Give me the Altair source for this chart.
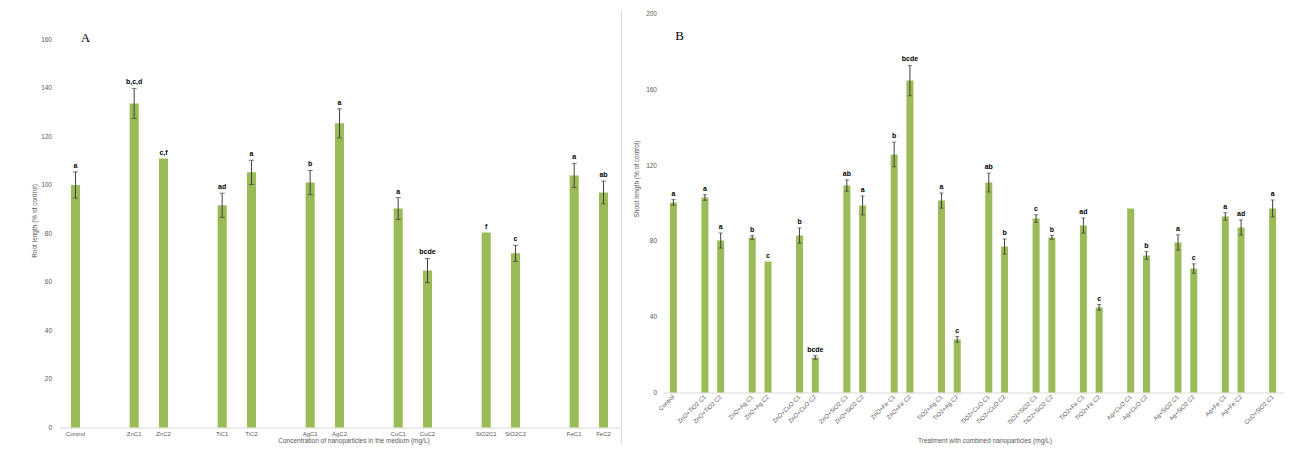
import altair as alt
import pandas as pd

# ---------------- Panel A data ----------------
A_labels = ["Control", "ZnC1", "ZnC2", "TiC1", "TiC2", "AgC1", "AgC2",
            "CuC1", "CuC2", "SiO2C1", "SiO2C2", "FeC1", "FeC2"]
A_values = [100.0, 133.6, 110.9, 91.6, 105.2, 101.0, 125.4,
            90.3, 64.7, 80.4, 71.8, 103.9, 96.9]
A_err = [5.4, 6.2, 0.0, 5.0, 5.0, 5.0, 6.0, 4.5, 5.0, 0.0, 3.3, 5.0, 4.7]
A_letters = ["a", "b,c,d", "c,f", "ad", "a", "b", "a", "a", "bcde", "f", "c", "a", "ab"]
A_ticks = [0, 20, 40, 60, 80, 100, 120, 140, 160]

# ---------------- Panel B data ----------------
B_labels = ["Control",
            "ZnO+TiO2 C1", "ZnO+TiO2 C2",
            "ZnO+Ag C1", "ZnO+Ag C2",
            "ZnO+CuO C1", "ZnO+CuO C2",
            "ZnO+SiO2 C1", "ZnO+SiO2 C2",
            "ZnO+Fe C1", "ZnO+Fe C2",
            "TiO2+Ag C1", "TiO2+Ag C2",
            "TiO2+CuO C1", "TiO2+CuO C2",
            "TiO2+SiO2 C1", "TiO2+SiO2 C2",
            "TiO2+Fe C1", "TiO2+Fe C2",
            "Ag+CuO C1", "Ag+CuO C2",
            "Ag+SiO2 C1", "Ag+SiO2 C2",
            "Ag+Fe C1", "Ag+Fe C2",
            "CuO+SiO2 C1"]
B_values = [100.3, 102.9, 80.2, 81.8, 69.1, 82.8, 18.5, 109.2, 98.7, 125.6,
            164.6, 101.3, 28.0, 110.8, 77.0, 91.8, 81.8, 88.1, 44.9, 97.1,
            72.3, 79.2, 65.4, 92.9, 87.1, 97.1]
B_err = [1.5, 1.5, 4.0, 1.0, 0.0, 4.0, 1.0, 3.0, 5.0, 6.5,
         8.0, 4.0, 1.5, 5.0, 4.0, 2.0, 1.0, 4.0, 1.5, 0.0,
         2.0, 4.0, 2.5, 2.0, 4.0, 4.5]
B_letters = ["a", "a", "a", "b", "c", "b", "bcde", "ab", "a", "b",
             "bcde", "a", "c", "ab", "b", "c", "b", "ad", "c", "",
             "b", "a", "c", "a", "ad", "a"]
B_ticks = [0, 20, 40, 60, 80, 100, 120, 140, 160, 180, 200]

GREEN = "#9BBB59"
GREY = "#595959"
FONT = "Liberation Sans"


def domain_with_gaps(labels, prefix):
    dom = [labels[0], prefix + "0"]
    rest = labels[1:]
    k = 1
    for i in range(0, len(rest), 2):
        dom += rest[i:i + 2]
        if i + 2 < len(rest):
            dom.append(f"{prefix}{k}")
            k += 1
    return dom


def make_df(labels, values, err, letters):
    df = pd.DataFrame({"cat": labels, "val": values, "err": err, "sig": letters})
    df["lo"] = df["val"] - df["err"]
    df["hi"] = df["val"] + df["err"]
    return df


dfA = make_df(A_labels, A_values, A_err, A_letters)
dfB = make_df(B_labels, B_values, B_err, B_letters)
domA = domain_with_gaps(A_labels, "_g")
domB = domain_with_gaps(B_labels, "_g")

# ---------------- Panel A ----------------
xA = alt.X("cat:N", sort=domA,
           scale=alt.Scale(domain=domA, paddingInner=0.69, paddingOuter=0.39),
           axis=alt.Axis(title="Concentration of nanoparticles in the medium (mg/L)",
                         labelAngle=0, ticks=False, domainColor="#d9d9d9",
                         labelExpr="indexof(datum.value, '_g') == 0 ? '' : datum.value",
                         labelFontSize=6, labelColor=GREY, labelPadding=3,
                         titleX=294, titleY=13, titleBaseline="middle",
                         titleFontSize=6.5, titleFontWeight="normal", titleColor=GREY))
yA_scale = alt.Scale(domain=[0, 170.7], nice=False, zero=True)
yA = alt.Y("val:Q", scale=yA_scale,
           axis=alt.Axis(values=A_ticks, title="Root length (% of control)",
                         ticks=False, domain=False, grid=False, labelPadding=8,
                         labelFontSize=6.5, labelColor=GREY,
                         titleX=-25, titleY=207, titleBaseline="middle",
                         titleFontSize=6.5, titleFontWeight="normal", titleColor=GREY))

baseA = alt.Chart(dfA)
barsA = baseA.mark_bar(color=GREEN).encode(x=xA, y=yA)
errA = baseA.transform_filter("datum.err > 0").mark_rule(color="#404040", strokeWidth=1).encode(
    x=xA, y=alt.Y("lo:Q", scale=yA_scale), y2="hi:Q")
capA1 = baseA.transform_filter("datum.err > 0").mark_tick(color="#404040", thickness=1, size=5).encode(
    x=xA, y=alt.Y("hi:Q", scale=yA_scale))
capA2 = baseA.transform_filter("datum.err > 0").mark_tick(color="#404040", thickness=1, size=5).encode(
    x=xA, y=alt.Y("lo:Q", scale=yA_scale))
txtA = baseA.mark_text(fontSize=7, fontWeight="bold", baseline="bottom", dy=-3,
                       color="black", font=FONT).encode(
    x=xA, y=alt.Y("hi:Q", scale=yA_scale), text="sig:N")
labA = alt.Chart(pd.DataFrame({"t": ["A"]})).mark_text(
    fontSize=13, font="Liberation Serif", align="center", baseline="middle").encode(
    x=alt.value(26), y=alt.value(24), text="t:N")
sepA = alt.Chart(pd.DataFrame({"t": ["sep"]})).mark_rule(color="#d9d9d9", strokeWidth=1).encode(
    x=alt.value(562), y=alt.value(-3), y2=alt.value(430))

panelA = alt.layer(barsA, errA, capA1, capA2, txtA, labA, sepA).properties(width=560, height=414)

# ---------------- Panel B ----------------
xB = alt.X("cat:N", sort=domB,
           scale=alt.Scale(domain=domB, paddingInner=0.556, paddingOuter=0.468),
           axis=alt.Axis(title="Treatment with combined nanoparticles (mg/L)",
                         labelAngle=-45, labelAlign="right", labelBaseline="middle",
                         ticks=False, domainColor="#d9d9d9",
                         labelExpr="indexof(datum.value, '_g') == 0 ? '' : datum.value",
                         labelFontSize=6, labelColor=GREY, labelPadding=3,
                         titleX=322, titleY=48, titleBaseline="middle",
                         titleFontSize=6.5, titleFontWeight="normal", titleColor=GREY))
yB_scale = alt.Scale(domain=[0, 200], nice=False, zero=True)
yB = alt.Y("val:Q", scale=yB_scale,
           axis=alt.Axis(values=B_ticks, title="Shoot length (% of control)",
                         ticks=False, domain=False, grid=False, labelPadding=6,
                         labelFontSize=6.5, labelColor=GREY,
                         titleX=-26, titleY=165, titleBaseline="middle",
                         titleFontSize=6.5, titleFontWeight="normal", titleColor=GREY))

baseB = alt.Chart(dfB)
barsB = baseB.mark_bar(color=GREEN).encode(x=xB, y=yB)
errB = baseB.transform_filter("datum.err > 0").mark_rule(color="#404040", strokeWidth=1).encode(
    x=xB, y=alt.Y("lo:Q", scale=yB_scale), y2="hi:Q")
capB1 = baseB.transform_filter("datum.err > 0").mark_tick(color="#404040", thickness=1, size=4).encode(
    x=xB, y=alt.Y("hi:Q", scale=yB_scale))
capB2 = baseB.transform_filter("datum.err > 0").mark_tick(color="#404040", thickness=1, size=4).encode(
    x=xB, y=alt.Y("lo:Q", scale=yB_scale))
txtB = baseB.mark_text(fontSize=7, fontWeight="bold", baseline="bottom", dy=-3,
                       color="black", font=FONT).encode(
    x=xB, y=alt.Y("hi:Q", scale=yB_scale), text="sig:N")
labB = alt.Chart(pd.DataFrame({"t": ["B"]})).mark_text(
    fontSize=13, font="Liberation Serif", align="center", baseline="middle").encode(
    x=alt.value(17), y=alt.value(22), text="t:N")

panelB = alt.layer(barsB, errB, capB1, capB2, txtB, labB).properties(width=621, height=379)

chart = alt.hconcat(panelA, panelB, spacing=43, bounds="flush").properties(
    padding={"left": 23.5, "top": 1.5, "right": 0, "bottom": 0}
).configure(font=FONT).configure_view(stroke=None, strokeWidth=0)

chart.save("out.html", embed_options={"renderer": "svg", "actions": False})
